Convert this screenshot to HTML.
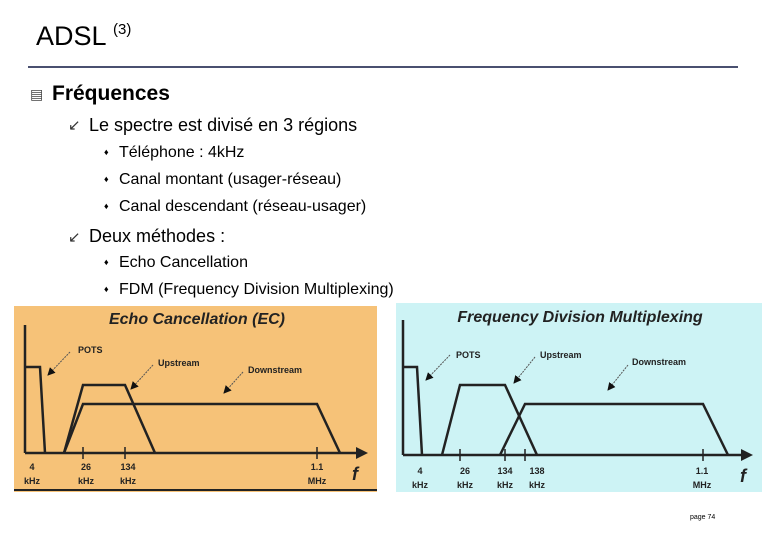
<!DOCTYPE html>
<html><head><meta charset="utf-8"><style>
body{margin:0;width:780px;height:540px;background:#fff;position:relative;font-family:"Liberation Sans",sans-serif;overflow:hidden}
.t{position:absolute;white-space:nowrap;color:#000}
</style></head><body>
<div class="t" style="left:36px;top:21px;font-size:27px">ADSL <span style="font-size:15px;vertical-align:11px">(3)</span></div>
<div style="position:absolute;left:28px;top:66px;width:710px;height:2px;background:#4a5070"></div>
<div class="t" style="left:30px;top:86px;font-size:14px;color:#444">&#9636;</div>
<div class="t" style="left:52px;top:82px;font-size:21px;font-weight:bold">Fréquences</div>
<div class="t" style="left:68px;top:116px;font-size:15px;color:#333">&#8601;</div>
<div class="t" style="left:89px;top:115px;font-size:18px">Le spectre est divisé en 3 régions</div>
<div class="t" style="left:104px;top:147px;font-size:9px">&#9830;</div>
<div class="t" style="left:119px;top:144px;font-size:16px">Téléphone : 4kHz</div>
<div class="t" style="left:104px;top:174px;font-size:9px">&#9830;</div>
<div class="t" style="left:119px;top:171px;font-size:16px">Canal montant (usager-réseau)</div>
<div class="t" style="left:104px;top:201px;font-size:9px">&#9830;</div>
<div class="t" style="left:119px;top:198px;font-size:16px">Canal descendant (réseau-usager)</div>
<div class="t" style="left:68px;top:228px;font-size:15px;color:#333">&#8601;</div>
<div class="t" style="left:89px;top:226px;font-size:18px">Deux méthodes :</div>
<div class="t" style="left:104px;top:257px;font-size:9px">&#9830;</div>
<div class="t" style="left:119px;top:254px;font-size:16px">Echo Cancellation</div>
<div class="t" style="left:104px;top:284px;font-size:9px">&#9830;</div>
<div class="t" style="left:119px;top:281px;font-size:16px">FDM (Frequency Division Multiplexing)</div>
<div class="t" style="left:690px;top:514px;font-size:7px">page 74</div>
<svg width="780" height="540" style="position:absolute;left:0;top:0" font-family="Liberation Sans" >
<defs><marker id="a" markerWidth="8" markerHeight="8" refX="7" refY="4" orient="auto" markerUnits="userSpaceOnUse"><path d="M0,0L8,4L0,8z" fill="#111"/></marker></defs>
<rect x="14" y="306" width="363" height="186" fill="#f6c278"/>
<line x1="14" y1="490" x2="377" y2="490" stroke="#222" stroke-width="2"/>
<text x="197" y="324" font-size="16" font-weight="bold" font-style="italic" text-anchor="middle" fill="#222">Echo Cancellation (EC)</text>
<g stroke="#222" stroke-width="2.5" fill="none">
<line x1="25" y1="325" x2="25" y2="453"/><line x1="25" y1="453" x2="360" y2="453"/>
<path d="M25,367H40L45,453"/><path d="M64,453L83,385H125L155,453"/><path d="M64,453L83,404H317L340,453"/>
<line x1="83" y1="447" x2="83" y2="459" stroke-width="1.5"/><line x1="125" y1="447" x2="125" y2="459" stroke-width="1.5"/><line x1="317" y1="447" x2="317" y2="459" stroke-width="1.5"/>
</g>
<path d="M356,447L368,453L356,459z" fill="#222"/>
<g stroke="#555" stroke-width="1" stroke-dasharray="2,1" marker-end="url(#a)"><line x1="70" y1="352" x2="48" y2="375"/><line x1="153" y1="365" x2="131" y2="389"/><line x1="243" y1="372" x2="224" y2="393"/></g>
<g font-size="9" font-weight="bold" fill="#222"><text x="78" y="353">POTS</text><text x="158" y="366">Upstream</text><text x="248" y="373">Downstream</text>
<text x="32" y="470" text-anchor="middle">4</text><text x="32" y="484" text-anchor="middle">kHz</text>
<text x="86" y="470" text-anchor="middle">26</text><text x="86" y="484" text-anchor="middle">kHz</text>
<text x="128" y="470" text-anchor="middle">134</text><text x="128" y="484" text-anchor="middle">kHz</text>
<text x="317" y="470" text-anchor="middle">1.1</text><text x="317" y="484" text-anchor="middle">MHz</text></g>
<text x="352" y="480" font-size="18" font-weight="bold" font-style="italic" fill="#222">f</text>

<rect x="396" y="303" width="366" height="189" fill="#cdf3f5"/>
<text x="580" y="322" font-size="16" font-weight="bold" font-style="italic" text-anchor="middle" fill="#222">Frequency Division Multiplexing</text>
<g stroke="#222" stroke-width="2.5" fill="none">
<line x1="403" y1="320" x2="403" y2="455"/><line x1="403" y1="455" x2="745" y2="455"/>
<path d="M403,367H417L422,455"/><path d="M442,455L460,385H505L537,455"/><path d="M500,455L525,404H703L728,455"/>
<line x1="460" y1="449" x2="460" y2="461" stroke-width="1.5"/><line x1="505" y1="449" x2="505" y2="461" stroke-width="1.5"/><line x1="525" y1="449" x2="525" y2="461" stroke-width="1.5"/><line x1="703" y1="449" x2="703" y2="461" stroke-width="1.5"/>
</g>
<path d="M741,449L753,455L741,461z" fill="#222"/>
<g stroke="#555" stroke-width="1" stroke-dasharray="2,1" marker-end="url(#a)"><line x1="450" y1="355" x2="426" y2="380"/><line x1="535" y1="357" x2="514" y2="383"/><line x1="628" y1="365" x2="608" y2="390"/></g>
<g font-size="9" font-weight="bold" fill="#222"><text x="456" y="358">POTS</text><text x="540" y="358">Upstream</text><text x="632" y="365">Downstream</text>
<text x="420" y="474" text-anchor="middle">4</text><text x="420" y="488" text-anchor="middle">kHz</text>
<text x="465" y="474" text-anchor="middle">26</text><text x="465" y="488" text-anchor="middle">kHz</text>
<text x="505" y="474" text-anchor="middle">134</text><text x="505" y="488" text-anchor="middle">kHz</text>
<text x="537" y="474" text-anchor="middle">138</text><text x="537" y="488" text-anchor="middle">kHz</text>
<text x="702" y="474" text-anchor="middle">1.1</text><text x="702" y="488" text-anchor="middle">MHz</text></g>
<text x="740" y="482" font-size="18" font-weight="bold" font-style="italic" fill="#222">f</text>
</svg>
</body></html>
